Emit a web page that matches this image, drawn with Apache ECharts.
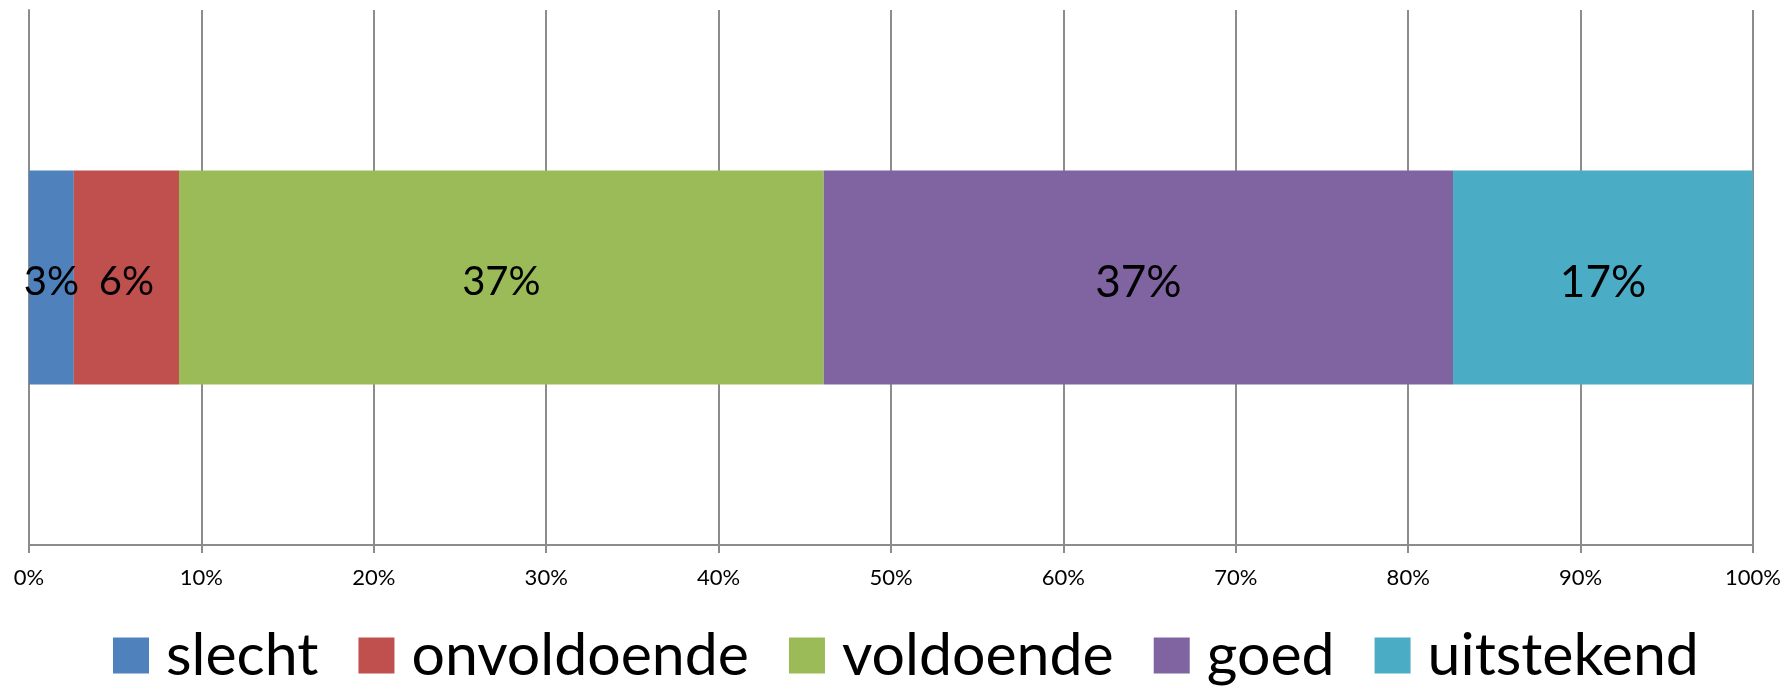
<!DOCTYPE html>
<html>
<head>
<meta charset="utf-8">
<title>beoordeling</title>
<script src="https://cdn.jsdelivr.net/npm/echarts@6/dist/echarts.min.js"></script>
<style>
  html, body { margin: 0; padding: 0; background: #fff; }
  #main { width: 1787px; height: 686px; }
</style>
</head>
<body>
<div id="main"></div>
<script>
// categorie (maar 1 balk) en de reeksen
var categories = [''];
var seriesNames = ['slecht', 'onvoldoende', 'voldoende', 'goed', 'uitstekend'];
var seriesValues = [2.6, 6.1, 37.4, 36.5, 17.4];   // aandeel in procent
var seriesColors = ['#4F81BD', '#C0504D', '#9BBB59', '#8064A2', '#4BACC6'];
var labelSizes = [40, 40, 40, 44, 44];
var xTicks = [0, 10, 20, 30, 40, 50, 60, 70, 80, 90, 100];

var fontFam = 'Lato, "Open Sans", sans-serif';

var myChart = echarts.init(document.getElementById('main'));

var series = [];
for (var i = 0; i < seriesNames.length; i++) {
  series.push({
    name: seriesNames[i],
    type: 'bar',
    stack: 'totaal',
    barWidth: '40%',
    itemStyle: { color: seriesColors[i] },
    label: {
      show: true,
      position: 'inside',
      offset: [0, 5],
      color: '#000',
      fontFamily: fontFam,
      fontSize: labelSizes[i],
      formatter: function (p) { return Math.round(p.value) + '%'; }
    },
    data: [seriesValues[i]]
  });
}

var option = {
  animation: false,
  backgroundColor: '#fff',
  grid: { left: 29, right: 34, top: 10, bottom: 141 },
  legend: {
    data: seriesNames,
    left: 113,
    top: 626,
    padding: 0,
    icon: 'rect',
    itemWidth: 36,
    itemHeight: 36,
    itemGap: 40,
    textStyle: {
      fontFamily: fontFam,
      fontSize: 59,
      color: '#000',
      padding: [0, 0, 0, 12]
    }
  },
  xAxis: {
    type: 'value',
    min: xTicks[0],
    max: xTicks[xTicks.length - 1],
    interval: 10,
    axisLine: { show: true, lineStyle: { color: '#8c8c8c', width: 2 } },
    axisTick: { show: true, length: 8, lineStyle: { color: '#8c8c8c', width: 2 } },
    splitLine: { show: true, lineStyle: { color: '#8c8c8c', width: 2 } },
    axisLabel: {
      margin: 22,
      color: '#000',
      fontFamily: fontFam,
      fontSize: 22,
      formatter: '{value}%'
    }
  },
  yAxis: {
    type: 'category',
    data: categories,
    axisLine: { show: true, lineStyle: { color: '#8c8c8c', width: 2 } },
    axisTick: { show: false },
    axisLabel: { show: false }
  },
  series: series
};

myChart.setOption(option);
</script>
</body>
</html>
